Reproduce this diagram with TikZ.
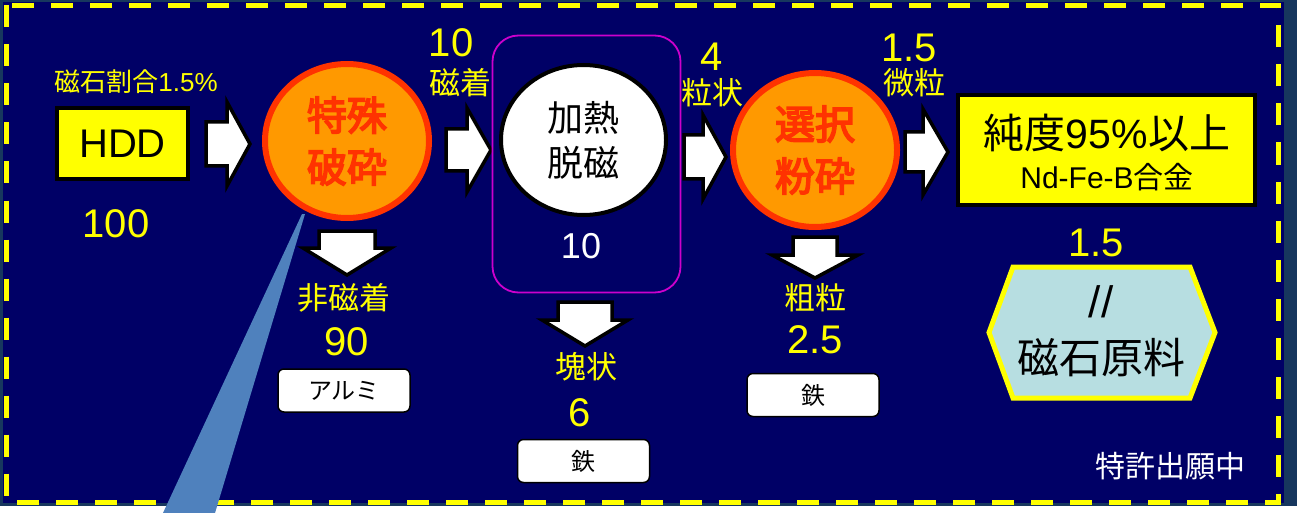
\documentclass[tikz,border=0pt]{standalone}
\usepackage{fontspec}
\setmainfont{Liberation Sans}
\newfontfamily\jp{Noto Sans CJK JP}
\newfontfamily\jpb[FakeBold=4]{Noto Sans CJK JP}
\usetikzlibrary{shapes.geometric}
\definecolor{slate}{HTML}{17375E}
\definecolor{navy}{HTML}{000066}
\definecolor{yel}{HTML}{FFFF00}
\definecolor{orng}{HTML}{FF9900}
\definecolor{redo}{HTML}{FF3300}
\definecolor{purp}{HTML}{CC00CC}
\definecolor{hexfill}{HTML}{B7DEE1}
\definecolor{wedge}{HTML}{4F81BD}
\newcommand\fs[1]{\fontsize{#1}{#1}\selectfont}
\newcommand\fsl[2]{\fontsize{#1}{#2}\selectfont}
\newcommand\rarr[7]{% name, x0, xh, x1, yc, bh, hh
  \draw[blk] (#2,{#5-#6}) -- (#3,{#5-#6}) -- (#3,{#5-#7}) -- (#4,#5) -- (#3,{#5+#7}) -- (#3,{#5+#6}) -- (#2,{#5+#6}) -- cycle;
  \coordinate (#1) at ({(#2+#4)/2},#5);}
\newcommand\darr[7]{% name, xc, bw, hw, y0, yh, y1
  \draw[blk] ({#2-#3},#5) -- ({#2+#3},#5) -- ({#2+#3},#6) -- ({#2+#4},#6) -- (#2,#7) -- ({#2-#4},#6) -- ({#2-#3},#6) -- ({#2-#3},#5) -- cycle;
  \coordinate (#1) at (#2,{(#5+#7)/2});}
\begin{document}
\begin{tikzpicture}[x=1pt,y=-1pt,
  blk/.style={draw=black,fill=white,line width=3.5pt,line join=miter},
  ylab/.style={text=yel,inner sep=0pt,font=\jp\fs{31}},
  num/.style={text=yel,inner sep=0pt,font=\fs{40}},
  proc/.style={ellipse,draw=redo,fill=orng,line width=6pt,minimum width=164pt,minimum height=154pt,inner sep=0pt,align=center,text=redo,font=\jpb\fsl{40}{52}},
  wbox/.style={draw=black,fill=white,rounded corners=6pt,line width=1.5pt,minimum width=132pt,minimum height=43pt,inner sep=0pt,font=\jp\fs{24}}]
\useasboundingbox (0,0) rectangle (1297,513);
% background
\fill[white] (0,0) rectangle (1297,513);
\fill[slate] (0,0) rectangle (1297,506);
\fill[navy] (3,2) rectangle (1284,503);
\draw[yel,line width=5pt,dash pattern=on 22pt off 17pt] (6.5,5.5) rectangle (1278.5,502);
% callout wedge
\fill[wedge] (302,214) -- (305,214) -- (215,513) -- (163,513) -- cycle;
% HDD
\node[draw=black,fill=yel,line width=4pt,minimum width=131pt,minimum height=71pt,inner sep=0pt,font=\fs{40}] (hdd) at (122.5,143.5) {HDD};
\node[text=yel,inner sep=0pt,font=\fs{26}] (ratio) at (136,82) {{\jp 磁石割合}1.5\%};
\node[num] (n100) at (116,224) {100};
% arrows right
\rarr{a1}{206}{227}{250}{144}{22}{42}
\rarr{a2}{446}{467}{491}{150}{21}{42}
\rarr{a3}{684}{703}{726}{157}{22}{42}
\rarr{a4}{905}{923}{948}{152}{20}{43}
% special crushing
\node[proc] (c1) at (347,141) {特殊\\破砕};
\darr{d1}{347}{28}{44}{231}{248}{275}
\node[ylab] (nm) at (344,298) {非磁着};
\node[num] (n90) at (347,342) {90};
\node[wbox] (al) at (344,390.5) {アルミ};
% heating demag
\node[ylab] (mag) at (460,83) {磁着};
\node[num] (n10) at (451,43) {10};
\node[draw=purp,line width=1.8pt,rounded corners=26pt,minimum width=188pt,minimum height=257pt,inner sep=0pt] (pbox) at (586.5,164) {};
\node[ellipse,draw=black,fill=white,line width=4pt,minimum width=165pt,minimum height=150pt,inner sep=0pt,align=center,font=\jp\fsl{36}{45}] (c2) at (583.5,140) {加熱\\脱磁};
\node[text=white,inner sep=0pt,font=\fs{36}] (w10) at (581,246) {10};
\darr{d2}{585}{27}{43}{302}{320}{346}
\node[ylab] (blk2) at (586,367) {塊状};
\node[num] (n6) at (580,413) {6};
\node[wbox] (fe1) at (583.5,461) {鉄};
% selective grinding
\node[num] (n4) at (712,57) {4};
\node[ylab] (gr) at (712,93) {粒状};
\node[proc] (c3) at (815,150) {選択\\粉砕};
\darr{d3}{815}{22}{43}{237}{255}{278}
\node[ylab] (cg) at (815,298) {粗粒};
\node[num] (n25) at (815,340) {2.5};
\node[wbox] (fe2) at (813,395) {鉄};
% product
\node[num] (n15a) at (909,48) {1.5};
\node[ylab] (fine) at (914,83) {微粒};
\node[draw=black,fill=yel,line width=4pt,minimum width=297pt,minimum height=110pt,inner sep=0pt] (prod) at (1106.5,150) {};
\node[inner sep=0pt,font=\fs{41}] (pur) at (1107,133) {{\jp 純度}95\%{\jp 以上}};
\node[inner sep=0pt,font=\fs{30}] (ndfeb) at (1107,177) {Nd-Fe-B{\jp 合金}};
\node[num] (n15b) at (1096,243) {1.5};
\draw[yel,fill=hexfill,line width=5pt,line join=miter] (1013,267) -- (1190,267) -- (1215,332.5) -- (1190,398) -- (1013,398) -- (989,332.5) -- cycle;
\coordinate (hex) at (1102,332.5);
\node[inner sep=0pt,font=\fs{44}] (sl) at (1101,302) {//};
\node[inner sep=0pt,font=\jp\fs{42}] (raw) at (1101,358) {磁石原料};
\node[text=white,inner sep=0pt,font=\jp\fs{30}] (pat) at (1170,466) {特許出願中};
\end{tikzpicture}
\end{document}
